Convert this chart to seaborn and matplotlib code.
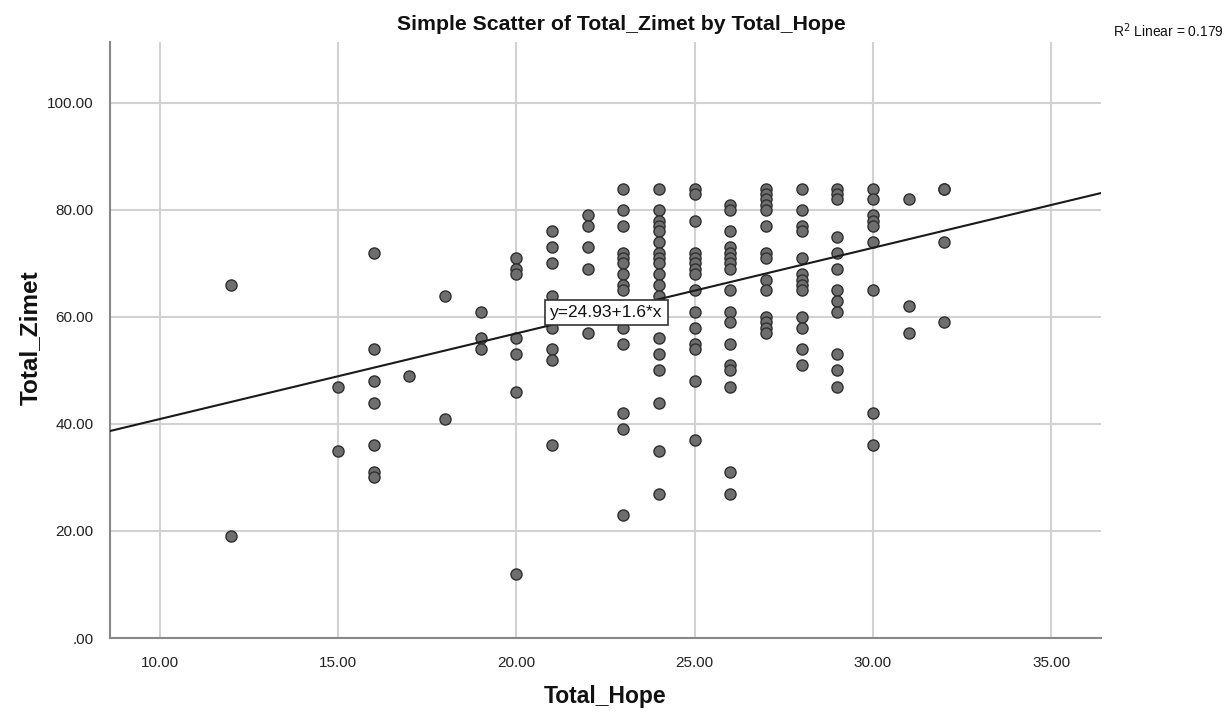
import numpy as np
import pandas as pd
import matplotlib
matplotlib.use("Agg")
import matplotlib.pyplot as plt
import seaborn as sns

# ---- data ----
hope_12 = [66, 19]
hope_15 = [47, 35]
hope_16 = [72, 54, 48, 44, 36, 31, 30]
hope_17 = [49]
hope_18 = [64, 41]
hope_19 = [61, 56, 54]
hope_20 = [71, 69, 68, 56, 53, 46, 12]
hope_21 = [76, 73, 70, 64, 61, 58, 54, 52, 36]
hope_22 = [79, 77, 73, 69, 57]
hope_23 = [84, 80, 77, 72, 71, 70, 68, 66, 65, 62, 60, 58, 55, 42, 39, 23]
hope_24 = [84, 80, 78, 77, 76, 74, 72, 71, 70, 68, 66, 64, 62, 60, 56, 53, 50, 44, 35, 27]
hope_25 = [84, 83, 78, 72, 71, 70, 69, 68, 65, 61, 58, 55, 54, 48, 37]
hope_26 = [81, 80, 76, 73, 72, 71, 70, 69, 65, 61, 59, 55, 51, 50, 47, 31, 27]
hope_27 = [84, 83, 82, 81, 80, 77, 72, 71, 67, 65, 60, 59, 58, 57]
hope_28 = [84, 80, 77, 76, 71, 68, 67, 66, 65, 60, 58, 54, 51]
hope_29 = [84, 83, 82, 75, 72, 69, 65, 63, 61, 53, 50, 47]
hope_30 = [84, 82, 79, 78, 77, 74, 65, 42, 36]
hope_31 = [82, 62, 57]
hope_32 = [84, 84, 74, 59]

groups = {12: hope_12, 15: hope_15, 16: hope_16, 17: hope_17, 18: hope_18,
          19: hope_19, 20: hope_20, 21: hope_21, 22: hope_22, 23: hope_23,
          24: hope_24, 25: hope_25, 26: hope_26, 27: hope_27, 28: hope_28,
          29: hope_29, 30: hope_30, 31: hope_31, 32: hope_32}

fit_intercept = 24.93
fit_slope = 1.6
r2_linear = 0.179

x_ticks = [10, 15, 20, 25, 30, 35]
y_ticks = [0, 20, 40, 60, 80, 100]

title = "Simple Scatter of Total_Zimet by Total_Hope"
x_label = "Total_Hope"
y_label = "Total_Zimet"

rows = [(h, z) for h, zs in groups.items() for z in zs]
df = pd.DataFrame(rows, columns=[x_label, y_label])

# ---- plotting ----
sns.set_theme(style="white")
plt.rcParams['font.family'] = ['Liberation Sans', 'DejaVu Sans']

W, H = 1228, 713
fig = plt.figure(figsize=(W / 100, H / 100), dpi=100)
ax = fig.add_axes([110 / W, 1 - 638 / H, (1101 - 110) / W, (638 - 42) / H])

xlim = (8.6, 36.4)
ylim = (0, 111.4)

sns.scatterplot(data=df, x=x_label, y=y_label, ax=ax,
                s=64, color="#6e6e6e", edgecolor="#2f2f2f", linewidth=1.0,
                zorder=3)

xs = np.array(xlim)
sns.lineplot(x=xs, y=fit_intercept + fit_slope * xs, ax=ax, color="#1a1a1a",
             linewidth=1.5, zorder=4)

ax.set_xlim(*xlim)
ax.set_ylim(*ylim)
ax.set_xticks(x_ticks)
ax.set_yticks(y_ticks)
ax.set_xticklabels([f"{v:.2f}" for v in x_ticks])
ax.set_yticklabels([".00" if v == 0 else f"{v:.2f}" for v in y_ticks])
ax.grid(True, color="#d2d2d2", linewidth=1.5, zorder=0)
ax.set_axisbelow(True)
ax.tick_params(axis="x", length=0, labelsize=11, colors="#222222", pad=13)
ax.tick_params(axis="y", length=0, labelsize=11, colors="#222222", pad=12)
for s in ["top", "right"]:
    ax.spines[s].set_visible(False)
for s in ["left", "bottom"]:
    ax.spines[s].set_color("#888888")
    ax.spines[s].set_linewidth(1.5)

ax.set_xlabel("")
ax.set_ylabel("")
fig.text(605 / W, 1 - 697 / H, x_label, fontsize=16.5, fontweight="bold",
         ha="center", va="center", color="#111111")
fig.text(30 / W, 1 - 338 / H, y_label, fontsize=17.5, fontweight="bold",
         ha="center", va="center", rotation=90, color="#111111")
fig.text(621 / W, 1 - 25 / H, title, fontsize=15.3, fontweight="bold",
         ha="center", va="center", color="#111111")

ax.text(20.95, 60.9, f"y={fit_intercept}+{fit_slope}*x", fontsize=12.5,
        ha="left", va="center", zorder=5, color="#111111",
        bbox=dict(boxstyle="square,pad=0.28", facecolor="white",
                  edgecolor="#333333", linewidth=1.2))

fig.text(1224 / W, 1 - 31 / H, f"R$^2$ Linear = {r2_linear}", fontsize=10,
         ha="right", va="center", color="#111111")

fig.savefig("out.png", dpi=100)
